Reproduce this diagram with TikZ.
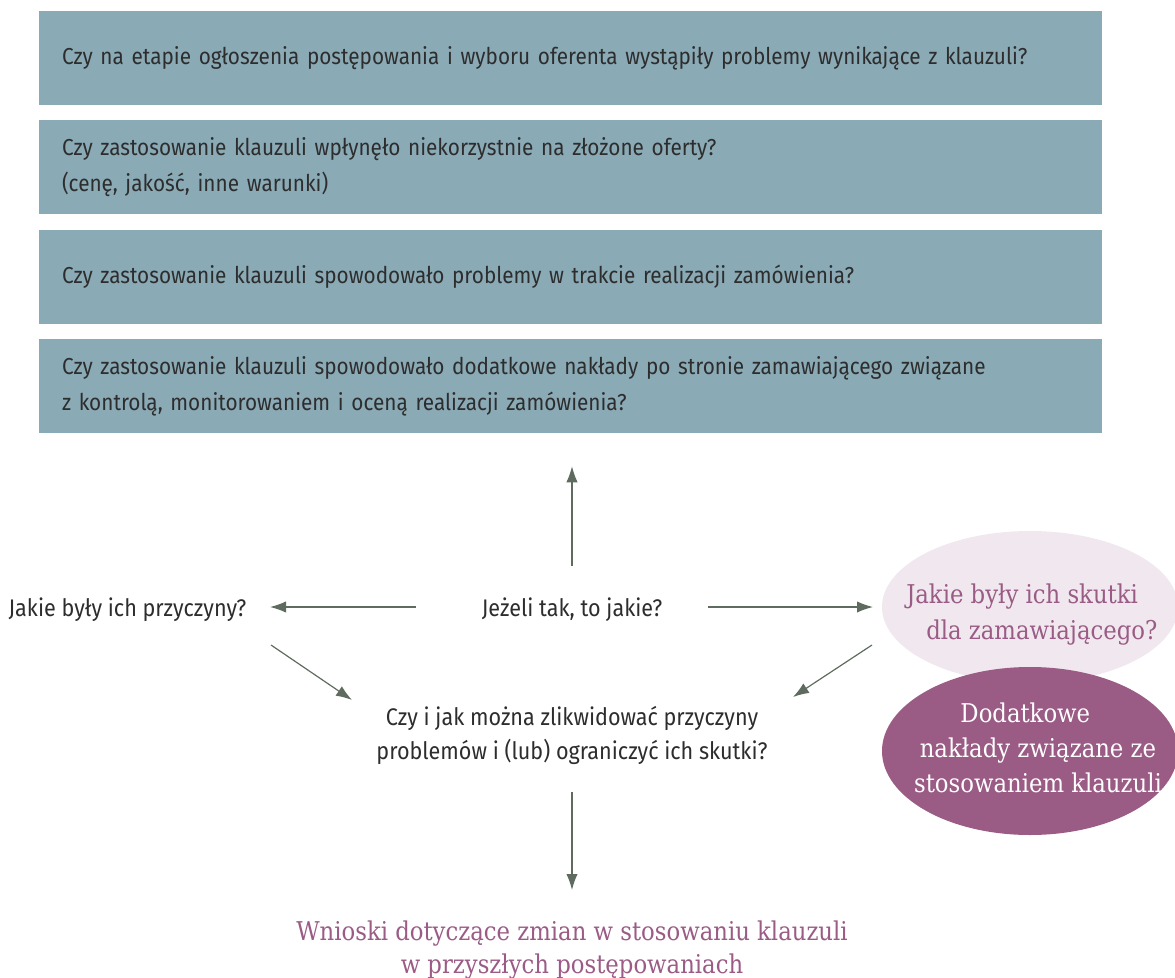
\documentclass[tikz,border=0pt]{standalone}
\usepackage{fontspec}
\setmainfont{Fira Sans}[FakeStretch=0.9]
\newfontfamily\slabfont{DejaVu Serif}[FakeStretch=0.88]
\usepackage{xcolor}
\usetikzlibrary{shapes,arrows.meta,positioning,calc}

\definecolor{boxblue}{RGB}{138,170,182}
\definecolor{textgray}{RGB}{45,45,45}
\definecolor{arrowgreen}{RGB}{95,107,95}
\definecolor{plum}{RGB}{154,91,133}
\definecolor{lightplum}{RGB}{240,232,238}

\tikzset{
  qbox/.style={fill=boxblue, text=textgray, minimum width=797.25pt, minimum height=70.5pt,
    inner xsep=17.25pt, inner ysep=0pt, text width=762.75pt, align=left,
    font=\fontsize{17.3}{27}\selectfont},
  plainq/.style={text=textgray, inner sep=0pt, align=center, font=\fontsize{18}{25.5}\selectfont},
  violetq/.style={text=plum, inner sep=0pt, align=center, font=\slabfont\fontsize{19.4}{24.75}\selectfont},
  flow/.style={draw=arrowgreen, line width=0.9pt, -{Latex[length=12pt,width=8.5pt]}}
}

\begin{document}
\begin{tikzpicture}[x=0.75pt,y=-0.75pt]
\useasboundingbox (0,0) rectangle (1175,978);

% question boxes
\node[qbox] (q1) at (570.5,58) {Czy na etapie ogłoszenia postępowania i wyboru oferenta wystąpiły problemy wynikające z klauzuli?};
\node[qbox] (q2) at (570.5,167) {Czy zastosowanie klauzuli wpłynęło niekorzystnie na złożone oferty?\\(cenę, jakość, inne warunki)};
\node[qbox] (q3) at (570.5,277) {Czy zastosowanie klauzuli spowodowało problemy w trakcie realizacji zamówienia?};
\node[qbox] (q4) at (570.5,386) {Czy zastosowanie klauzuli spowodowało dodatkowe nakłady po stronie zamawiającego związane\\z kontrolą, monitorowaniem i oceną realizacji zamówienia?};

% middle row
\node[plainq] (jezeli) at (572,610) {Jeżeli tak, to jakie?};
\node[plainq] (przyczyny) at (127.5,610) {Jakie były ich przyczyny?};
\node[ellipse, fill=lightplum, minimum width=222pt, minimum height=114pt] (skutki) at (1030,607) {};
\node[violetq, align=left, anchor=west, font=\slabfont\fontsize{19.4}{27}\selectfont] (skutkitxt) at (906,615) {Jakie były ich skutki\\\hspace*{15pt}dla zamawiającego?};
\node[ellipse, fill=plum, minimum width=222pt, minimum height=126pt, text=white, inner sep=0pt,
  font=\slabfont\fontsize{19.4}{26.25}\selectfont, align=center] (naklady) at (1030,751) {};
\node[text=white, inner sep=0pt, align=center, font=\slabfont\fontsize{19.4}{26.25}\selectfont] (nakladytxt) at (1038,748) {Dodatkowe\hspace*{19pt}\\nakłady związane ze\\stosowaniem klauzuli};

% lower part
\node[plainq] (srodek) at (572,735) {Czy i jak można zlikwidować przyczyny\\problemów i (lub) ograniczyć ich skutki?};
\node[violetq] (wnioski) at (572,950) {Wnioski dotyczące zmian w stosowaniu klauzuli\\w przyszłych postępowaniach};

% arrows
\draw[flow] ($(jezeli.center)+(0,-44)$) -- ($(jezeli |- q4.south)+(0,33)$);
\draw[flow] ($(jezeli.center)+(-156,-3)$) -- ($(przyczyny.center)+(142.5,-3)$);
\draw[flow] ($(jezeli.center)+(136,-3)$) -- ($(skutki.center)+(-157,0)$);
\draw[flow] ($(przyczyny.center)+(143.5,35)$) -- ($(srodek.center)+(-220,-35)$);
\draw[flow] ($(skutki.center)+(-158,38)$) -- ($(srodek.center)+(221,-38)$);
\draw[flow] ($(srodek.center)+(0,57)$) -- ($(wnioski.center)+(0,-60)$);

\end{tikzpicture}
\end{document}
